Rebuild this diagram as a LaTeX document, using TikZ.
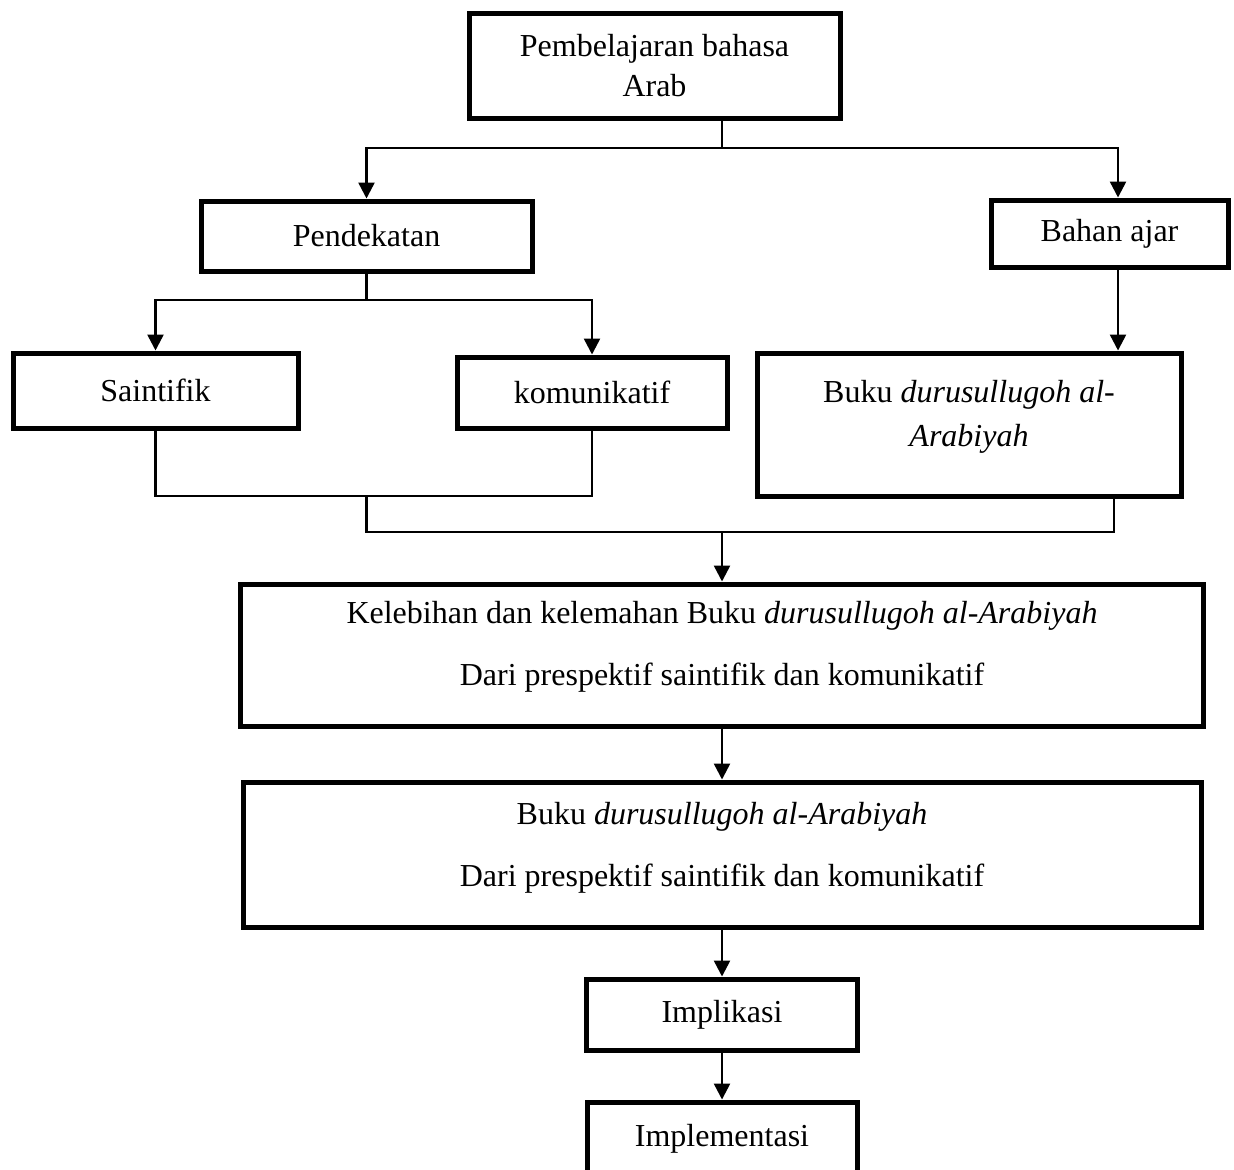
\documentclass[tikz,border=0pt]{standalone}
\usepackage{fontspec}
\setmainfont{Liberation Serif}
\usetikzlibrary{arrows.meta}
\definecolor{ink}{HTML}{000000}
\tikzset{
  box/.style={rectangle, draw=ink, line width=2.5pt, fill=white, align=center,
              inner sep=0pt, font=\fontsize{16}{20}\selectfont},
  sz/.style 2 args={minimum width=#1*0.5pt, minimum height=#2*0.5pt},
  ln/.style={draw=ink, line width=1.25pt},
  fl/.style={ln, -{Triangle[length=8pt,width=8pt]}}
}

\begin{document}
\begin{tikzpicture}[x=0.5pt, y=-0.5pt]
  \useasboundingbox (0,0) rectangle (1234,1169);
  \node[box, sz={371}{105}] (pba) at (654.5,65.5) {Pembelajaran bahasa\\Arab};
  \node[box, sz={331}{70}] (pend) at (366.5,236) {Pendekatan};
  \node[box, sz={237}{67}] (bahan) at (1109.5,233.5) {Bahan ajar};
  \node[box, sz={285}{75}] (saint) at (155.5,390.5) {Saintifik};
  \node[box, sz={270}{71}] (komu) at (592,392.5) {komunikatif};
  \node[box, sz={424}{143}] (buku) at (969,424.5) {Buku \textit{durusullugoh al-}\\[2pt]\textit{Arabiyah}\\[-9pt]\mbox{}};
  \node[box, sz={963}{142}] (kel) at (722,655) {Kelebihan dan kelemahan Buku \textit{durusullugoh al-Arabiyah}\\[11pt]Dari prespektif saintifik dan komunikatif\\[-8pt]\mbox{}};
  \node[box, sz={958}{145}] (dari) at (722,854.5) {Buku \textit{durusullugoh al-Arabiyah}\\[11pt]Dari prespektif saintifik dan komunikatif\\[-10pt]\mbox{}};
  \node[box, sz={271}{71}] (impl) at (722,1014.5) {Implikasi};
  \node[box, sz={270}{73}] (imp2) at (722,1138.5) {Implementasi};
  \coordinate (j1) at (722,148); \coordinate (rx) at (1118,0);
  \coordinate (j2) at (366.5,300); \coordinate (j3) at (366.5,496);
  \coordinate (j4) at (366.5,532); \coordinate (j5) at (722,532); \coordinate (bk) at (1114,532);
  \draw[ln] (pba.south -| j1) -- (j1);
  \draw[fl] (j1) -| (pend.north); \draw[fl] (j1) -| (bahan.north -| rx);
  \draw[fl] (bahan.south -| rx) -- (buku.north -| rx);
  \draw[ln] (pend.south) -- (j2);
  \draw[fl] (j2) -| (saint.north); \draw[fl] (j2) -| (komu.north);
  \draw[ln] (saint.south) |- (j3) -| (komu.south);
  \draw[ln] (j3) -- (j4) -- (bk) -- (bk |- buku.south);
  \draw[fl] (j5) -- (kel);
  \draw[fl] (kel) -- (dari); \draw[fl] (dari) -- (impl); \draw[fl] (impl) -- (imp2);
\end{tikzpicture}
\end{document}
